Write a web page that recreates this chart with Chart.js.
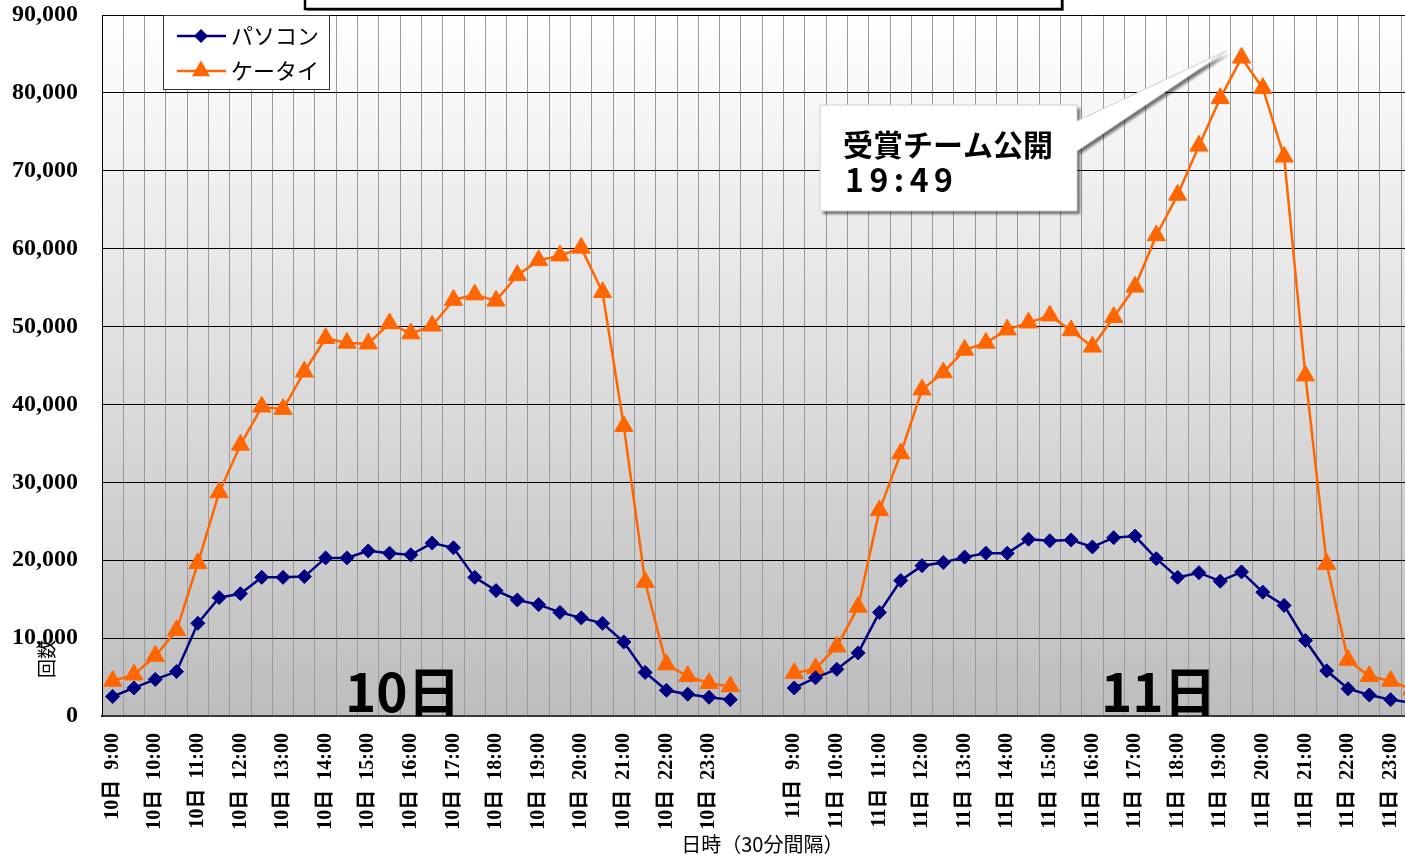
<!DOCTYPE html>
<html lang="ja">
<head>
<meta charset="utf-8">
<title>回数（30分間隔）</title>
<script src="https://cdn.jsdelivr.net/npm/chart.js@4.4.1/dist/chart.umd.min.js"></script>
<style>
  html, body { margin: 0; padding: 0; background: #fff; overflow: hidden; }
  #wrap { width: 1436px; height: 856px; }
</style>
</head>
<body>
<div id="wrap"><canvas id="accessChart" width="1436" height="856"></canvas></div>
<script>
// 時間帯（30分間隔）
const slots = [
  "9:00", "9:30", "10:00", "10:30", "11:00", "11:30", "12:00", "12:30",
  "13:00", "13:30", "14:00", "14:30", "15:00", "15:30", "16:00", "16:30",
  "17:00", "17:30", "18:00", "18:30", "19:00", "19:30", "20:00", "20:30",
  "21:00", "21:30", "22:00", "22:30", "23:00", "23:30",
];
const days = ["10日", "11日"];
const gapSlots = ["", ""];
const seriesNames = ["パソコン", "ケータイ"];

// 10日
const pc10 = [
  2500, 3600, 4700, 5700, 11900, 15200, 15700, 17800, 17800, 17900,
  20300, 20300, 21200, 20900, 20700, 22200, 21600, 17800, 16100, 14900,
  14300, 13300, 12600, 11900, 9500, 5600, 3300, 2800, 2400, 2100,
];
const mobile10 = [
  4500, 5300, 7700, 11000, 19600, 28700, 34800, 39700, 39400, 44200,
  48500, 47900, 47800, 50400, 49100, 50100, 53400, 54100, 53300, 56600,
  58500, 59100, 60100, 54400, 37200, 17200, 6600, 5100, 4200, 3800,
];

// 11日
const pc11 = [
  3600, 4900, 6000, 8100, 13300, 17400, 19300, 19700, 20400, 20900,
  20900, 22700, 22500, 22600, 21700, 22900, 23100, 20200, 17800, 18400,
  17300, 18500, 15900, 14200, 9700, 5800, 3500, 2700, 2100, 1700,
];
const mobile11 = [
  5500, 6100, 8900, 14000, 26400, 33700, 41900, 44100, 47000, 47900,
  49600, 50500, 51400, 49500, 47400, 51200, 55100, 61700, 66900, 73200,
  79300, 84500, 80600, 71800, 43700, 19500, 7200, 5100, 4500, 3400,
];

const yMin = 0;
const yMax = 90000;
const yStep = 10000;

const calloutLines = ["受賞チーム公開", "19:49"];
const axisTitleY = "回数";
const axisTitleX = "日時（30分間隔）";

const NAVY = "#000080";
const ORANGE = "#FF6600";
const SERIF = "'Liberation Serif', 'Noto Sans CJK JP', serif";
const GOTHIC = "'Noto Sans CJK JP', sans-serif";

const categories = [
  ...slots.map((s) => `${days[0]}  ${s}`),
  ...gapSlots,
  ...slots.map((s) => `${days[1]}  ${s}`),
];
const gapValues = gapSlots.map(() => null);
const pcSeries = [...pc10, ...gapValues, ...pc11];
const mobileSeries = [...mobile10, ...gapValues, ...mobile11];

// グラフ背景のグラデーション
const plotBackground = {
  id: "plotBackground",
  beforeDraw(chart) {
    const { ctx, chartArea: a } = chart;
    ctx.save();
    ctx.fillStyle = "#fff";
    ctx.fillRect(0, 0, chart.width, chart.height);
    const g = ctx.createLinearGradient(0, a.top, 0, a.bottom);
    g.addColorStop(0, "#ffffff");
    g.addColorStop(1, "#bdbdbd");
    ctx.fillStyle = g;
    ctx.fillRect(a.left, a.top, a.right - a.left, a.bottom - a.top);
    ctx.restore();
  },
};

function drawSpaced(ctx, text, x, y, advance) {
  for (const ch of text) {
    ctx.fillText(ch, x, y);
    x += ctx.measureText(ch).width + advance;
  }
}

// 凡例・吹き出し・日付などの注記
const overlays = {
  id: "overlays",
  afterDraw(chart) {
    const { ctx } = chart;
    const xs = chart.scales.x;
    const ys = chart.scales.y;

    // 上部のタイトル枠（切れている）
    ctx.save();
    ctx.shadowColor = "rgba(0,0,0,0.5)";
    ctx.shadowOffsetX = 2;
    ctx.shadowOffsetY = 2;
    ctx.fillStyle = "#fff";
    ctx.fillRect(305, -12, 757, 21);
    ctx.shadowColor = "transparent";
    ctx.strokeStyle = "#000";
    ctx.lineWidth = 2.5;
    ctx.strokeRect(305, -12, 757, 21);
    ctx.restore();

    // 凡例
    ctx.save();
    ctx.fillStyle = "#fff";
    ctx.fillRect(163, 15, 167, 75);
    ctx.strokeStyle = "#333";
    ctx.lineWidth = 1;
    ctx.strokeRect(163.5, 15.5, 166, 74);
    chart.data.datasets.forEach((ds, i) => {
      const y = 36 + i * 35;
      ctx.strokeStyle = ds.borderColor;
      ctx.lineWidth = 2.5;
      ctx.beginPath();
      ctx.moveTo(177, y);
      ctx.lineTo(226, y);
      ctx.stroke();
      ctx.fillStyle = ds.backgroundColor;
      Chart.helpers.drawPoint(ctx, {
        pointStyle: ds.pointStyle,
        radius: ds.pointRadius,
        rotation: 0,
        borderWidth: 0,
      }, 201, y);
      ctx.fillStyle = "#000";
      ctx.font = `22px ${GOTHIC}`;
      ctx.textBaseline = "middle";
      ctx.fillText(ds.label, 231, y);
    });
    ctx.restore();

    // 吹き出し（ピークを指す）
    const peak = mobileSeries.indexOf(Math.max(...mobile11));
    const tipX = xs.getPixelForValue(peak) - 15;
    const tipY = ys.getPixelForValue(mobileSeries[peak]) - 7;
    ctx.save();
    ctx.beginPath();
    ctx.moveTo(820, 105);
    ctx.lineTo(1077, 105);
    ctx.lineTo(1077, 121);
    ctx.lineTo(tipX, tipY);
    ctx.lineTo(1077, 151);
    ctx.lineTo(1077, 211);
    ctx.lineTo(820, 211);
    ctx.closePath();
    ctx.shadowColor = "rgba(0,0,0,0.55)";
    ctx.shadowOffsetX = 3;
    ctx.shadowOffsetY = 3;
    ctx.shadowBlur = 3;
    ctx.fillStyle = "#fff";
    ctx.fill();
    ctx.shadowColor = "transparent";
    ctx.strokeStyle = "#cfcfcf";
    ctx.lineWidth = 1;
    ctx.stroke();
    ctx.fillStyle = "#000";
    ctx.textBaseline = "alphabetic";
    ctx.font = `bold 30px ${GOTHIC}`;
    ctx.fillText(calloutLines[0], 843, 156);
    ctx.font = `bold 32px ${GOTHIC}`;
    drawSpaced(ctx, calloutLines[1], 845, 192, 5.5);
    ctx.restore();

    // 日付
    ctx.save();
    ctx.fillStyle = "#000";
    ctx.font = `bold 53px ${GOTHIC}`;
    ctx.textBaseline = "alphabetic";
    ctx.fillText(days[0], 345, 712);
    ctx.fillText(days[1], 1101, 712);
    ctx.restore();

    // 縦軸タイトル
    ctx.save();
    ctx.translate(47, 659);
    ctx.rotate(-Math.PI / 2);
    ctx.fillStyle = "#000";
    ctx.font = `19px ${GOTHIC}`;
    ctx.textAlign = "center";
    ctx.textBaseline = "middle";
    ctx.fillText(axisTitleY, 0, 0);
    ctx.restore();
  },
};

new Chart(document.getElementById("accessChart"), {
  type: "line",
  data: {
    labels: categories,
    datasets: [
      {
        label: seriesNames[0],
        data: pcSeries,
        borderColor: NAVY,
        backgroundColor: NAVY,
        borderWidth: 2.5,
        pointStyle: "rectRot",
        pointRadius: 7,
        pointBorderWidth: 1,
        tension: 0,
        spanGaps: false,
      },
      {
        label: seriesNames[1],
        data: mobileSeries,
        borderColor: ORANGE,
        backgroundColor: ORANGE,
        borderWidth: 2.5,
        pointStyle: "triangle",
        pointRadius: 10.5,
        pointBorderWidth: 1,
        tension: 0,
        spanGaps: false,
      },
    ],
  },
  options: {
    responsive: false,
    animation: false,
    layout: { padding: { top: 15, right: 4, left: 0, bottom: 0 } },
    plugins: {
      legend: { display: false },
      tooltip: { enabled: false },
    },
    scales: {
      x: {
        offset: true,
        grid: {
          offset: true,
          color: "#9a9a9a",
          lineWidth: 1,
          tickLength: 17,
          tickColor: "transparent",
        },
        border: { color: "#3a3a3a", width: 2 },
        ticks: {
          autoSkip: false,
          minRotation: 90,
          maxRotation: 90,
          padding: 0,
          color: "#000",
          font: { family: SERIF, size: 20, weight: "bold" },
          callback: (v, i) => (categories[i].endsWith(":00") ? categories[i] : ""),
        },
        title: {
          display: true,
          text: axisTitleX,
          color: "#000",
          font: { family: GOTHIC, size: 20 },
          padding: { top: 0, bottom: 0 },
        },
        afterFit: (s) => {
          s.height = 140;
        },
      },
      y: {
        min: yMin,
        max: yMax,
        ticks: {
          stepSize: yStep,
          padding: 0,
          color: "#000",
          font: { family: SERIF, size: 24, weight: "bold" },
        },
        grid: {
          color: "#000",
          lineWidth: 1,
          tickLength: 24,
          tickColor: "transparent",
        },
        border: { color: "#000", width: 1 },
        afterFit: (s) => {
          s.width = 102;
        },
      },
    },
  },
  plugins: [plotBackground, overlays],
});
</script>
</body>
</html>
